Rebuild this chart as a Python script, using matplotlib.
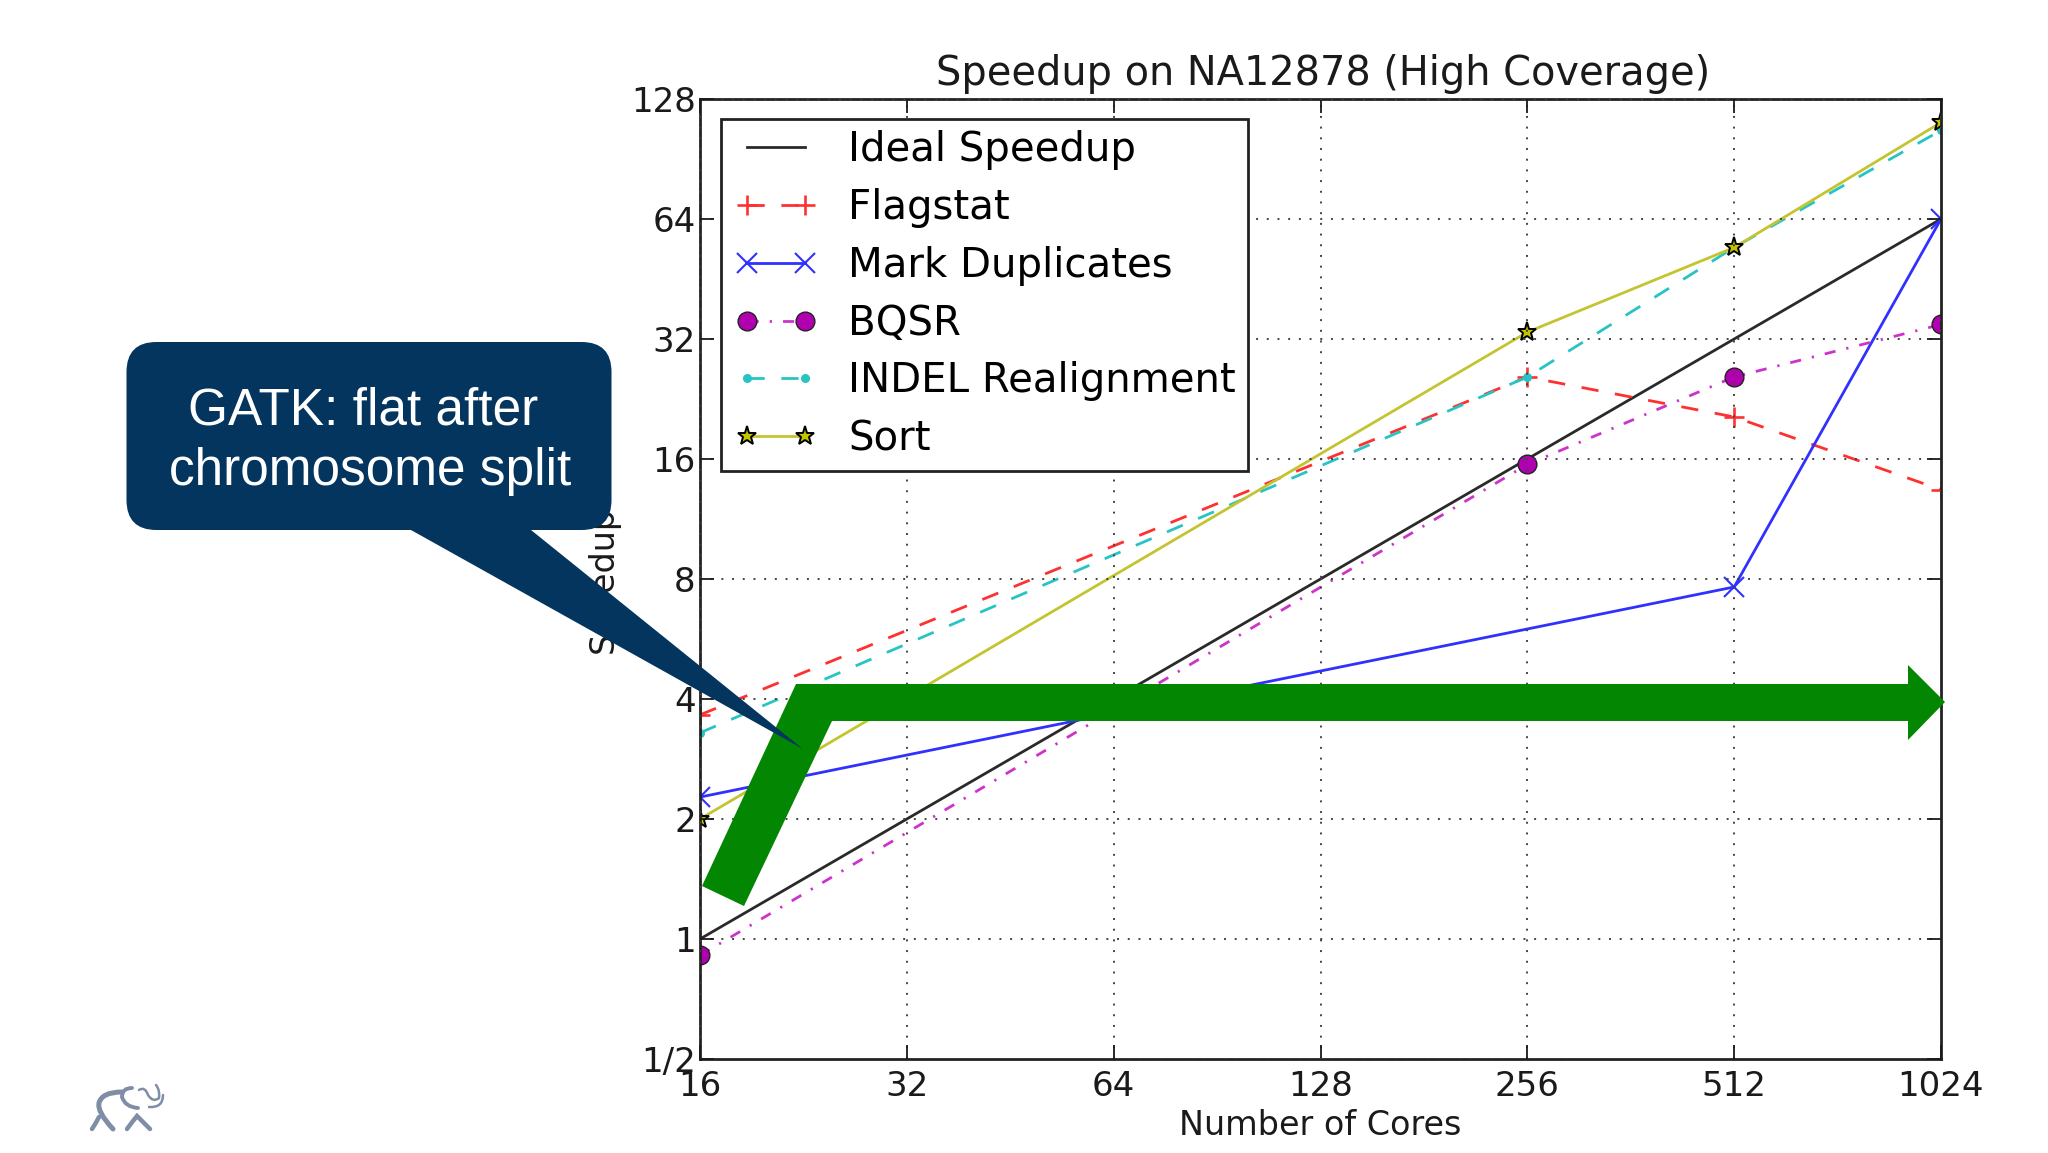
import matplotlib
matplotlib.use("Agg")
import matplotlib.pyplot as plt
from matplotlib.lines import Line2D
from matplotlib.legend_handler import HandlerLine2D
from matplotlib.patches import FancyBboxPatch, Polygon, PathPatch
from matplotlib.path import Path

# chart data
cores = [16, 256, 512, 1024]
ideal = [1, 16, 32, 64]
flagstat = [3.65, 25.7, 20.4, 13.4]
mark_dups = [2.27, 7.64, 64]
mark_dups_cores = [16, 512, 1024]
bqsr = [0.91, 15.5, 25.7, 34.8]
indel = [3.29, 25.7, 54.3, 106.8]
sort_times = [2.0, 33.3, 54.3, 111.8]

x_ticks = [16, 32, 64, 128, 256, 512, 1024]
x_labels = ["16", "32", "64", "128", "256", "512", "1024"]
y_ticks = [0.5, 1, 2, 4, 8, 16, 32, 64, 128]
y_labels = ["1/2", "1", "2", "4", "8", "16", "32", "64", "128"]

W, H = 2048, 1153
fig = plt.figure(figsize=(W / 100, H / 100), dpi=100, facecolor="white")
ax = fig.add_axes([700 / W, 1 - 1059 / H, 1241 / W, 960 / H])

ax.plot(cores, ideal, color="#2a2a2a", lw=2, label="Ideal Speedup")
ax.plot(cores, flagstat, color="#ff3030", lw=2, ls=(0, (6.2, 6)), marker="+", ms=15, mew=1.9,
        label="Flagstat")
ax.plot(mark_dups_cores, mark_dups, color="#3030ff", lw=2, marker="x", ms=14, mew=1.5,
        label="Mark Duplicates")
ax.plot(cores, bqsr, color="#cc33cc", lw=2, ls=(0, (4, 4, 0.8, 4)), marker="o", ms=13.5, mfc="#b000b0",
        mec="#222222", mew=1, label="BQSR")
ax.plot(cores, indel, color="#28c4c4", lw=2, ls=(0, (6.2, 6)), marker=".", ms=11,
        label="INDEL Realignment")
ax.plot(cores, sort_times, color="#c4c430", lw=2, marker="*", ms=14, mfc="#c4c400", mec="black",
        mew=1.4, label="Sort")

ax.set_xscale("log", base=2)
ax.set_yscale("log", base=2)
ax.set_xlim(16, 1024)
ax.set_ylim(0.5, 128)
ax.set_xticks(x_ticks)
ax.set_xticklabels(x_labels)
ax.set_yticks(y_ticks)
ax.set_yticklabels(y_labels)
ax.minorticks_off()
ax.tick_params(direction="in", top=True, right=True, length=10, width=1.3, labelsize=24.5,
               colors="#1a1a1a")
ax.tick_params(axis="x", pad=8)
ax.tick_params(axis="y", pad=3)
ax.grid(True, color="#444444", lw=1.4, ls=(0, (1, 4.5)))
ax.set_axisbelow(False)
for spine in ax.spines.values():
    spine.set_linewidth(2)
    spine.set_color("#222222")

ax.set_title("Speedup on NA12878 (High Coverage)", fontsize=28.7, pad=10, x=0.502, color="#1a1a1a")
ax.set_xlabel("Number of Cores", fontsize=24, labelpad=4, color="#1a1a1a")
ax.set_ylabel("Speedup", fontsize=24, labelpad=8, color="#1a1a1a")

leg = ax.legend(loc="upper left", bbox_to_anchor=(20.5 / 1241, 1 - 20 / 960), fontsize=29,
                fancybox=False, framealpha=1, edgecolor="#222222", borderaxespad=0,
                handlelength=1.81, handletextpad=1.08, labelspacing=0.44, borderpad=0.285,
                handler_map={Line2D: HandlerLine2D(numpoints=2, marker_pad=0, xpad=0.37)})
leg.get_frame().set_linewidth(2)

# overlay in pixel coordinates for the slide shapes
over = fig.add_axes([0, 0, 1, 1], facecolor="none", zorder=5)
over.set_xlim(0, W)
over.set_ylim(H, 0)
over.axis("off")

arrow_pts = [(702, 886), (796, 684), (1908, 684), (1908, 665), (1945, 702), (1908, 740), (1908, 721),
             (832, 721), (744, 906)]
over.add_patch(Polygon(arrow_pts, closed=True, fc="#038703", ec="none"))

navy = "#03355e"
over.add_patch(FancyBboxPatch((126.5, 342), 485, 188, boxstyle="round,pad=0,rounding_size=30",
                              fc=navy, ec="none"))
over.add_patch(Polygon([(411, 530), (531, 530), (803, 749)], closed=True, fc=navy, ec="none"))
over.text(363, 411, "GATK: flat after", color="white", fontsize=37, family="Liberation Sans",
          ha="center", va="center")
over.text(370, 471, "chromosome split", color="white", fontsize=37, family="Liberation Sans",
          ha="center", va="center")

# elephant logo, rough strokes: (points, width), points after the first are quadratic pairs
logo_color = "#7f8ea6"
logo_strokes = [
    ([(92, 1129), (96, 1123), (99, 1117)], 3.2),
    ([(113, 1129), (97, 1112), (99, 1103), (102, 1092), (122, 1092)], 3.6),
    ([(127, 1129), (132, 1122), (137, 1116), (143, 1122), (150, 1129)], 3.2),
    ([(132, 1088), (122, 1088), (122, 1097), (125, 1107), (138, 1108)], 2.8),
    ([(139, 1090), (145, 1086), (148, 1095), (153, 1103), (159, 1098), (160, 1090), (156, 1085)], 1.8),
    ([(149, 1107), (163, 1108), (163, 1095)], 1.8),
]
for stroke, width in logo_strokes:
    codes = [Path.MOVETO] + [Path.CURVE3] * (len(stroke) - 1)
    over.add_patch(PathPatch(Path(stroke, codes), fc="none", ec=logo_color, lw=width, capstyle="round"))

fig.savefig("out.png", dpi=100)
